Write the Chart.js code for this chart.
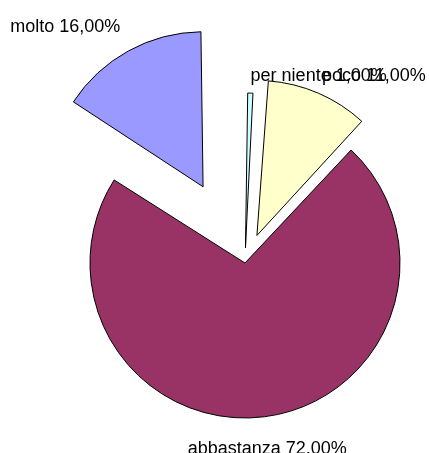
<!DOCTYPE html>
<html>
<head>
<meta charset="utf-8">
<script src="https://cdn.jsdelivr.net/npm/chart.js@4/dist/chart.umd.min.js"></script>
<style>
  html, body { margin: 0; padding: 0; background: #fff; }
  #wrap { width: 429px; height: 453px; }
</style>
</head>
<body>
<div id="wrap"><canvas id="pie" width="429" height="453"></canvas></div>
<script>
// --- Data ---
const categories = ['per niente', 'poco', 'abbastanza', 'molto'];
const values = [1, 11, 72, 16];
const colors = ['#CCFFFF', '#FFFFCC', '#993366', '#9999FF'];
const explode = [15, 30, 0, 87];   // px each slice is pulled out

const RADIUS = 155;

// --- Utils ---
function fmt_pct(v) { return v.toFixed(2).replace('.', ',') + '%'; }

// chart.js v4 moves an arc by offset/4 and also grows its radius a bit;
// undo the growth so every slice keeps the same radius (like Excel)
const keep_radius = {
  id: 'keep_radius',
  beforeDatasetsDraw(chart) {
    const meta = chart.getDatasetMeta(0);
    meta.data.forEach(arc => {
      const off = (arc.options.offset || 0) / 4;
      const fix = 1 - Math.sin(Math.min(Math.PI, arc.circumference || 0));
      arc.outerRadius = RADIUS - off * fix;
    });
  }
};

// --- Labels (Excel style, outside each slice) ---
const slice_labels = {
  id: 'slice_labels',
  afterDatasetsDraw(chart) {
    const ctx = chart.ctx;
    const meta = chart.getDatasetMeta(0);
    const gaps = [8, 9, 23, 17];
    ctx.save();
    ctx.font = '18px "Liberation Sans", Arial, sans-serif';
    ctx.fillStyle = '#000';
    meta.data.forEach((arc, i) => {
      const mid = (arc.startAngle + arc.endAngle) / 2;
      const dx = Math.cos(mid), dy = Math.sin(mid);
      const d = RADIUS + (arc.options.offset || 0) / 4 + gaps[i];
      const x = arc.x + dx * d;
      const y = arc.y + dy * d;
      if (dy > 0.5) { ctx.textAlign = 'center'; ctx.textBaseline = 'top'; }
      else if (dx < 0) { ctx.textAlign = 'right'; ctx.textBaseline = 'bottom'; }
      else { ctx.textAlign = 'left'; ctx.textBaseline = 'bottom'; }
      ctx.fillText(categories[i] + ' ' + fmt_pct(values[i]), x, y);
    });
    ctx.restore();
  }
};

new Chart(document.getElementById('pie'), {
  type: 'pie',
  data: {
    labels: categories,
    datasets: [{
      data: values,
      backgroundColor: colors,
      borderColor: '#000',
      borderWidth: 1,
      borderJoinStyle: 'miter',
      offset: explode.map(e => e * 4)
    }]
  },
  options: {
    responsive: false,
    animation: false,
    radius: RADIUS,
    layout: { padding: { left: 61, right: 0, top: 73, bottom: 0 } },
    plugins: { legend: { display: false }, tooltip: { enabled: false } }
  },
  plugins: [keep_radius, slice_labels]
});
</script>
</body>
</html>
